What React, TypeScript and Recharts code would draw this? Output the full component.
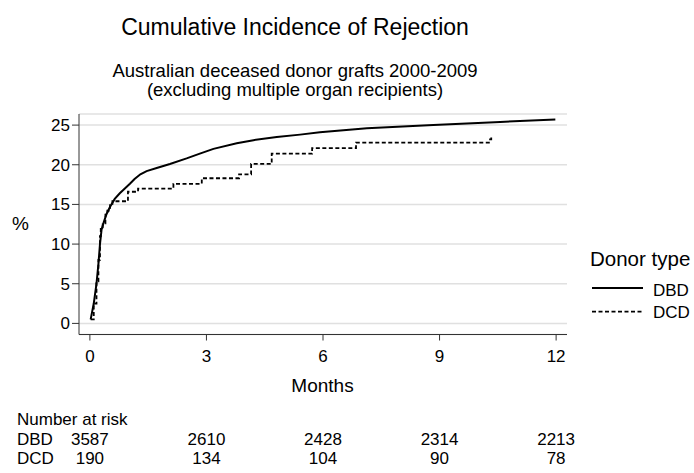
import React from 'react';
import { LineChart, Line, XAxis, YAxis, CartesianGrid } from 'recharts';

// ---- data ----
const dbdMonths = [0.02, 0.1, 0.17, 0.22, 0.26, 0.3, 0.36, 0.43, 0.52, 0.64, 0.77, 0.9, 1.03, 1.15, 1.3, 1.46, 1.72, 2.06, 2.49, 2.83, 3.18, 3.78, 4.21, 4.81, 5.41, 5.92, 7.13, 8.84, 10.56, 11.98];
const dbdPct = [0.5, 2.5, 5.0, 7.5, 10.0, 11.8, 12.8, 13.8, 14.7, 15.7, 16.4, 17.0, 17.6, 18.2, 18.8, 19.2, 19.6, 20.1, 20.8, 21.4, 22.0, 22.7, 23.1, 23.5, 23.8, 24.1, 24.6, 25.0, 25.4, 25.7];

const dcdMonths = [0.02, 0.1, 0.17, 0.22, 0.26, 0.28, 0.33, 0.4, 0.45, 0.52, 0.58, 0.98, 1.24, 2.15, 2.88, 3.84, 4.15, 4.68, 5.72, 6.85, 10.3, 10.33];
const dcdPct = [0.5, 2.5, 5.3, 8.0, 11.0, 12.1, 12.6, 13.7, 14.2, 14.9, 15.4, 16.6, 17.0, 17.6, 18.3, 18.8, 20.1, 21.4, 22.1, 22.8, 23.2, 23.6];

const xTicks = [0, 3, 6, 9, 12];
const yTicks = [0, 5, 10, 15, 20, 25];
const riskTimes = [0, 3, 6, 9, 12];
const dbdRisk = [3587, 2610, 2428, 2314, 2213];
const dcdRisk = [190, 134, 104, 90, 78];

const dbdData = dbdMonths.map((t, i) => ({ t, pct: dbdPct[i] }));
const dcdData = dcdMonths.map((t, i) => ({ t, pct: dcdPct[i] }));

const FONT = '"Liberation Sans", Arial, Helvetica, sans-serif';
const AXIS = '#333333';
const X_DOMAIN: [number, number] = [-0.28, 12.28];

export default function App() {
  return (
    <div style={{ position: 'absolute', left: 0, top: 0, width: 694, height: 473, background: '#fff', fontFamily: FONT }}>
      <LineChart
        width={694}
        height={473}
        margin={{ top: 114, right: 127, bottom: 0, left: 0 }}
        style={{ fontFamily: FONT }}
      >
        <CartesianGrid vertical={false} stroke="#e0e0e0" strokeWidth={1.5} />
        <XAxis
          dataKey="t"
          type="number"
          domain={X_DOMAIN}
          allowDataOverflow
          ticks={xTicks}
          height={98}
          stroke={AXIS}
          tickSize={6}
          tickMargin={9}
          tick={{ fontSize: 17, fill: '#000', fontFamily: FONT }}
        />
        <XAxis
          xAxisId="dbd"
          dataKey="t"
          type="number"
          domain={X_DOMAIN}
          allowDataOverflow
          ticks={riskTimes}
          height={19.5}
          axisLine={false}
          tickLine={false}
          tickSize={0}
          tickMargin={0}
          tickFormatter={(v: number) => String(dbdRisk[riskTimes.indexOf(v)])}
          tick={{ fontSize: 17, fill: '#000', fontFamily: FONT }}
        />
        <XAxis
          xAxisId="dcd"
          dataKey="t"
          type="number"
          domain={X_DOMAIN}
          allowDataOverflow
          ticks={riskTimes}
          height={21}
          axisLine={false}
          tickLine={false}
          tickSize={0}
          tickMargin={0}
          tickFormatter={(v: number) => String(dcdRisk[riskTimes.indexOf(v)])}
          tick={{ fontSize: 17, fill: '#000', fontFamily: FONT }}
        />
        <YAxis
          type="number"
          domain={[-1.4, 26.4]}
          allowDataOverflow
          ticks={yTicks}
          width={79}
          stroke={AXIS}
          tickSize={7}
          tickMargin={2}
          tick={{ fontSize: 17, fill: '#000', fontFamily: FONT }}
        />
        <Line
          data={dbdData}
          dataKey="pct"
          type="linear"
          stroke="#000"
          strokeWidth={2}
          dot={false}
          isAnimationActive={false}
        />
        <Line
          data={dcdData}
          dataKey="pct"
          type="stepAfter"
          stroke="#000"
          strokeWidth={1.8}
          strokeDasharray="4 2.5"
          dot={false}
          isAnimationActive={false}
        />
      </LineChart>
      <svg
        width={694}
        height={473}
        style={{ position: 'absolute', left: 0, top: 0, pointerEvents: 'none', fontFamily: FONT }}
      >
        <text x={295} y={35} textAnchor="middle" fontSize={23} fill="#000">Cumulative Incidence of Rejection</text>
        <text x={295} y={77} textAnchor="middle" fontSize={18.5} fill="#000">Australian deceased donor grafts 2000-2009</text>
        <text x={295} y={96} textAnchor="middle" fontSize={18.5} fill="#000">(excluding multiple organ recipients)</text>
        <text x={20.5} y={230} textAnchor="middle" fontSize={19} fill="#000">%</text>
        <text x={322.5} y={391.7} textAnchor="middle" fontSize={19} fill="#000">Months</text>
        <text x={590} y={266} fontSize={20.5} fill="#000">Donor type</text>
        <line x1={592} x2={643} y1={288} y2={288} stroke="#000" strokeWidth={2} />
        <text x={653} y={295.7} fontSize={17} fill="#000">DBD</text>
        <line x1={592} x2={643} y1={311.7} y2={311.7} stroke="#000" strokeWidth={1.8} strokeDasharray="4 2.5" />
        <text x={653} y={318} fontSize={17} fill="#000">DCD</text>
        <text x={17} y={425} fontSize={17} fill="#000">Number at risk</text>
        <text x={17} y={444.7} fontSize={17} fill="#000">DBD</text>
        <text x={17} y={464} fontSize={17} fill="#000">DCD</text>
      </svg>
    </div>
  );
}
